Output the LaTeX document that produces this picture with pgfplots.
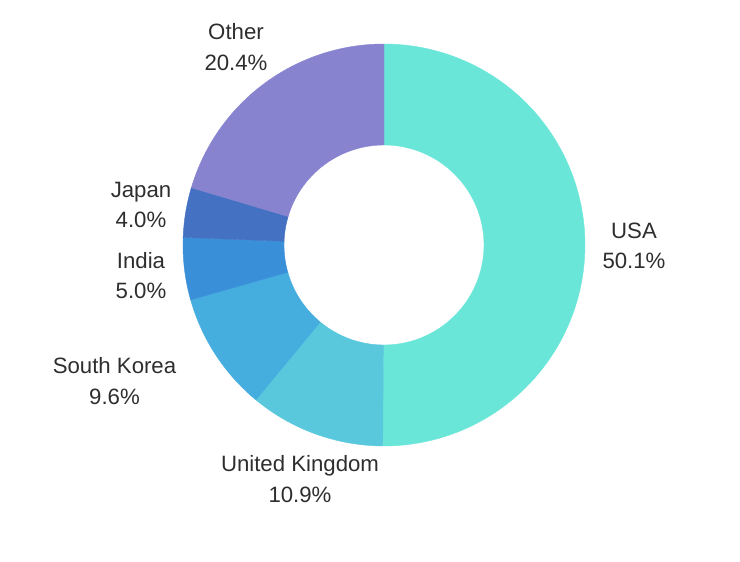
\documentclass[border=0pt]{standalone}
\usepackage{pgfplots}
\pgfplotsset{compat=1.18}
\usepackage{fontspec}
\setmainfont{Liberation Sans}
\definecolor{cUSA}{HTML}{6AE6D9}
\definecolor{cUK}{HTML}{5AC8DC}
\definecolor{cSK}{HTML}{46AEDF}
\definecolor{cIN}{HTML}{3A8FD9}
\definecolor{cJP}{HTML}{4471C2}
\definecolor{cOT}{HTML}{8783CF}
\definecolor{txt}{HTML}{2E2E2E}
\tikzset{lbl/.style={font=\fontsize{11.1}{15.2}\selectfont, text=txt, align=center, inner sep=0pt}}
% slice: #1 cumulative start (percent), #2 value (percent), #3 colour
\newcommand{\donutslice}[3]{%
  \pgfmathsetmacro\aA{90-3.6*(#1)}%
  \pgfmathsetmacro\aB{90-3.6*((#1)+(#2))}%
  \edef\doslice{\noexpand\addplot[fill=#3, draw=#3, line width=0.2pt, samples at={0,...,201}, variable=\noexpand\t]
   ({384+(\noexpand\t<=100.5 ? 201 : 100)*cos(\noexpand\t<=100.5 ? \aA+(\aB-\aA)*\noexpand\t/100 : \aB-(\aB-\aA)*(\noexpand\t-101)/100)},
    {317+(\noexpand\t<=100.5 ? 201 : 100)*sin(\noexpand\t<=100.5 ? \aA+(\aB-\aA)*\noexpand\t/100 : \aB-(\aB-\aA)*(\noexpand\t-101)/100)}) -- cycle;}%
  \doslice
}
\begin{document}
\begin{tikzpicture}
\begin{axis}[
  at={(0,0)}, anchor=south west,
  scale only axis, width=370pt, height=281pt,
  xmin=0, xmax=740, ymin=0, ymax=562,
  hide axis, clip=false,
]
\donutslice{0}{50.1}{cUSA}
\donutslice{50.1}{10.9}{cUK}
\donutslice{61.0}{9.6}{cSK}
\donutslice{70.6}{5.0}{cIN}
\donutslice{75.6}{4.0}{cJP}
\donutslice{79.6}{20.4}{cOT}
\node[lbl] at (axis cs:634,316) {USA\\50.1\%};
\node[lbl] at (axis cs:300,83) {United Kingdom\\10.9\%};
\node[lbl] at (axis cs:114.5,181) {South Korea\\9.6\%};
\node[lbl] at (axis cs:141,286.5) {India\\5.0\%};
\node[lbl] at (axis cs:141,357) {Japan\\4.0\%};
\node[lbl] at (axis cs:236,515) {Other\\20.4\%};
\coordinate (SW) at (rel axis cs:0,0);
\coordinate (NE) at (rel axis cs:1,1);
\end{axis}
\pgfresetboundingbox
\path (SW) rectangle (NE);
\end{tikzpicture}
\end{document}
